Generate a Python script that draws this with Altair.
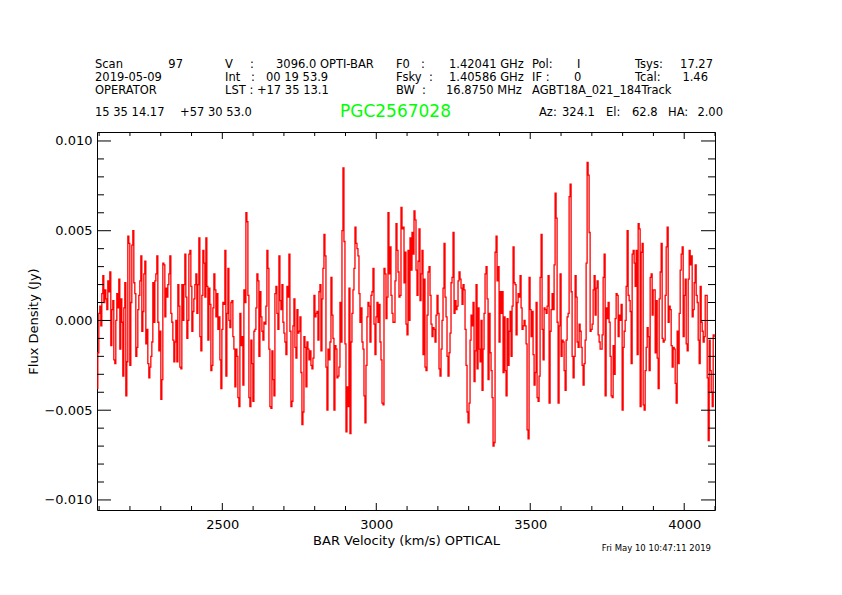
import altair as alt
import numpy as np
import pandas as pd

# ---- spectrum values (mJy), left half then right half ----
flux_a_mjy = [
    -3.8, -1.8, 0.4, 0.8, -0.3, 1.5, 2.5, 1.0, 1.7, 1.2, 0.6, 2.2, 1.6, 2.7, -1.4, 0.6, 1.1, -2.2, -2.4, 0.0,
    1.5, 0.7, 2.3, -1.6, 1.2, -0.1, -3.1, 0.7, 2.1, -4.2, -2.3, 4.7, 4.3, -2.5, 1.0, 4.2, 5.0, 2.1, 1.5, -2.0,
    -1.5, 0.6, 1.4, 2.2, 3.6, -0.6, 0.5, 2.6, 3.3, -1.3, -0.5, -2.4, -3.2, -2.6, -2.0, -1.2, 2.1, -0.1, 2.2, 2.6,
    3.6, -0.1,
    -1.7, -0.6, -4.4, -3.3, 3.2, 3.1, 0.2, 1.8, 1.3, 2.0, 2.6, 3.6, 0.4, -0.1, -1.1, -2.3, -1.2, 0.0, -2.3, 2.0,
    0.8, -2.6,
    -2.7, 2.0, 0.0, 2.0, 3.7, 1.3, -1.0, 0.0, 3.7, 3.9, 1.9, -0.6, 0.5, 1.2, 2.0, 2.6, 0.4, 2.0, 4.6, -0.9,
    -1.7,
    1.4, 3.9, 3.2, 1.3, 4.6, 1.9, -1.1, 1.8, 0.9, -2.8, -2.5, 0.7, 2.6, 1.7, 0.2, 1.5, -0.5, 0.2, -2.2, -3.8,
    -0.5,
    1.0, 0.9, 3.9, -3.1, 0.4, 2.9, 0.0, -0.4, 1.0, 1.1, -0.9, -1.6, -3.7, -1.6, -2.0, -4.3, -4.8, 0.4, -1.4, -0.9,
    -3.6, 1.7, 1.0, 6.0, 5.5, 1.4, -4.3, -4.8, -1.1, -2.4, -4.5, -0.6, -0.5, 0.7, 2.6, 2.2, -2.0, 1.6, 0.2, -0.6,
    -1.1, -0.1, -0.2, 0.8, 3.9, 2.9, -1.6, -4.8, -4.9, -1.7, -3.3, -4.2, 1.5, 1.9, 0.4, -0.5, 3.6, 1.1, 0.6, 2.0,
    -0.1, -0.7, -1.2, -1.9, 1.9, 1.3, 3.7, -0.6, -4.8, -4.5, -0.3, 1.2, -1.5, -2.1, 0.6, -0.7, -0.6, 0.2, -2.9, -5.8,
    -5.1, -0.9, -1.5, -3.7, -1.2, -1.6, -2.2, -1.7, -2.5, -2.7, -2.1, 1.4, 0.2, 0.4, 0.5, -1.1, 1.6, 2.0, -1.7, 1.2,
    2.9, 4.8, 3.6, -2.6, -5.0, -1.6, -2.2, -1.2, 2.4, 0.3, -1.0, -5.0, -1.4, -1.6, -3.2, -3.1, -2.6, 1.0, -1.2, 5.0,
    8.5, 4.4, -1.3, -6.2, -3.7, -4.8, 1.8, -6.3, -1.2, 0.4, 1.7, 2.9, 5.2, 4.3, 4.0, 3.6, 1.5, -0.1, 0.7, -1.2,
    -1.6, -4.2, -5.7, -2.5, 0.2, 1.0, 0.8, -1.2, 1.4, 1.6, 2.9, -0.2, -1.9, 0.2, 1.0, -0.1, 0.9, -1.2, -2.2, -4.6,
    -4.7, 2.9, 2.6, 0.1, 1.3, 6.0, 2.6, 4.1, 1.4, 0.4, -0.1, -0.1, 2.2, 5.4, 3.9, 2.7, 1.3, 1.4, 6.3, 5.1,
    2.1,
]
flux_b_mjy = [
    5.2, 2.1, 3.8, -0.2, -0.8, 3.9, 0.0, 4.6, 2.8, 4.9, 3.7, 6.1, 5.6, 2.8, 1.4, 3.3, 5.1, 1.1, 2.6, 3.9,
    -1.9, 2.3, -2.6, -2.8, 0.3, 2.7, 3.0, 1.4, -0.2, -0.9, -0.4, -0.5, -1.2, 0.3, 1.4, 0.4, -2.7, -3.1, -1.6, 0.0,
    1.8, 4.3, 1.3, 0.2, -2.0, -3.1, -1.8, -0.7, 2.1, 2.4, 4.9, 0.4, 1.1, 0.6, 0.8, 2.2, 2.7, 2.3, 1.8, 0.9,
    2.0, 1.7, -0.5, -2.5, -5.1, -5.7, -4.6, -1.1, 0.3, -0.3, 1.0, -3.4, -1.7, 2.0, -2.7, 0.7, -1.6, -2.3, 0.0, -3.9,
    -1.6, 0.4, 2.6, 3.0, 1.2, -3.3, 0.4, -1.8, -2.8, -4.3, -7.0, -6.8, 3.8, 4.7, 2.2, 3.0, -1.2, 1.6, 0.4, 1.6,
    -2.9, 0.2, -2.8, -4.2, 0.1, -2.5, -0.6, 0.5, -2.0, 0.8, 4.1, 2.1, 2.0, -0.8, 1.0, 1.5, 1.3, 2.5, 0.7, -0.5,
    -0.3, 0.0, -0.3, -1.3, -6.1, -6.6, 2.4, 0.6, -0.9, 0.5, -1.9, -3.6, -2.9, 1.0, -4.3, -4.5, -3.1, 2.4, 4.8, -0.5,
    -2.2, 0.7, 0.6, 0.4, 0.8, 2.5, -4.6, -0.6, 0.6, 1.5, 0.6, 3.1, 7.1, 5.7, -0.1, -4.6, -0.3, 2.6, -2.0, -1.1,
    -1.2, -2.8, -3.9, -1.1, 0.2, 0.4, 6.9, 7.6, 1.6, -2.0, -3.2, -2.0, 2.5, 1.3, -1.2, -1.5, -0.2, -0.6, -1.5, -2.5,
    -3.6, -2.4, -1.1, 3.2, 8.8, 8.1, 4.9, -0.6, -0.5, -0.2, 1.7, 2.5, 0.3, 1.8, 2.2, -0.8, -1.2, -1.6, -1.6, -0.8,
    2.4, 3.7, -4.2, 0.7, 0.1, 1.0, -0.1, -2.0, -4.2, -4.3, -1.4, -3.0, 0.1, 1.5, 1.4, -0.9, 0.3, 0.0, 0.9, -5.0,
    -1.5, -0.6, 0.0, 1.9, 5.0, 1.4, 1.1, 0.5, -2.4, 3.7, 3.9, 3.2, 1.9, 3.9, -1.9, 5.4, 5.1, -4.8, 3.8, 4.3,
    -4.7, -5.0, -2.8, -1.5, -0.4, -0.9, -2.8, 2.4, 2.6, 0.3, 1.7, 1.7, -1.8, 1.1, -2.1, -3.8, 1.2, 2.7, 4.3, -1.0,
    -1.2, -1.1, 1.4, 4.1, 5.2, -0.1, 0.8, 0.6, -1.4, -2.6, -1.5, -1.6, -3.5, -4.6, -0.6, -2.4, 0.4, 2.8, 3.7, 4.1,
    -0.9, 1.4, 2.3, -1.3, -1.7, 2.3, 3.9, 3.1, 3.6, 0.2, 0.6, 2.1, 3.1, 1.4, 1.0, -1.1, -2.4, 1.9, -0.1, -0.6,
    -1.2, -0.9, 1.4, 1.4, -3.2, -6.7, -1.1, -2.8, -4.0, -4.8, -0.8, -0.9,
]
vel_first, vel_last = 2094.0, 4099.0      # km/s, channel grid of the spectrum
x_domain = [2093.0, 4100.0]
y_domain = [-0.01056, 0.0105]

x_major = [2500, 3000, 3500, 4000]
x_minor = [v for v in range(2100, 4101, 100) if v % 500 != 0]
y_major = [-0.010, -0.005, 0.0, 0.005, 0.010]
y_minor = [round(i * 0.001, 3) for i in range(-10, 11) if i % 5 != 0]

header_left = [
    ("Scan", 95, 65), ("V", 225, 65), (":", 250, 65), ("3096.0 OPTI-BAR", 276, 65),
    ("F0", 396, 65), (":", 421, 65), ("1.42041 GHz", 449, 65), ("Pol:", 532, 65), ("I", 577, 65),
    ("Tsys:", 635, 65),
    ("2019-05-09", 95, 78), ("Int", 225, 78), (":", 251, 78), ("00 19 53.9", 266, 78),
    ("Fsky", 396, 78), (":", 429, 78), ("1.40586 GHz", 449, 78), ("IF :", 532, 78), ("0", 574, 78),
    ("Tcal:", 635, 78),
    ("OPERATOR", 95, 91), ("LST : +17 35 13.1", 225, 91), ("BW", 396, 91), (":", 422, 91),
    ("16.8750 MHz", 446, 91), ("AGBT18A_021_184Track", 532, 91),
    ("15 35 14.17", 95, 113), ("+57 30 53.0", 180, 113), ("Az:", 539, 113), ("324.1", 562, 113),
    ("El:", 606, 113), ("62.8", 632, 113), ("HA:", 668, 113),
]
header_right = [
    ("97", 183, 65), ("17.27", 713, 65), ("1.46", 708, 78), ("2.00", 723, 113),
]
source_name = "PGC2567028"
timestamp = "Fri May 10 10:47:11 2019"

# ---- layout ----
OX, OY = 97, 132          # plot origin on the page
W, H = 618, 378
FONT = "DejaVu Sans"
HFS = 11.5                # header font size

flux = np.array(flux_a_mjy[:-1] + flux_b_mjy) / 1000.0
vel = np.linspace(vel_first, vel_last, len(flux))
spec = pd.DataFrame({"vel": vel, "flux": flux})

xs = alt.Scale(domain=x_domain, nice=False, zero=False)
ys = alt.Scale(domain=y_domain, nice=False, zero=False)

ax_x = alt.Axis(
    values=x_major, format="d", ticks=False, domain=False, grid=False,
    labelFont=FONT, labelFontSize=13, labelColor="black", labelPadding=8,
    title="BAR Velocity (km/s) OPTICAL", titleFont=FONT, titleFontSize=13,
    titleFontWeight="normal", titleColor="black", titleX=W / 2, titleY=30,
    titleBaseline="middle", titleAlign="center")
ax_y = alt.Axis(
    values=y_major, format=".3f", ticks=False, domain=False, grid=False,
    labelFont=FONT, labelFontSize=13, labelColor="black", labelPadding=5,
    title="Flux Density (Jy)", titleFont=FONT, titleFontSize=13,
    titleFontWeight="normal", titleColor="black", titleX=33 - OX, titleY=H / 2,
    titleAngle=270, titleBaseline="middle", titleAlign="center")

line = alt.Chart(spec).mark_line(color="#ff0000", strokeWidth=1.3, interpolate="step", clip=True).encode(
    x=alt.X("vel:Q", scale=xs, axis=ax_x),
    y=alt.Y("flux:Q", scale=ys, axis=ax_y),
)


def tick_layer(values, side, length):
    df = pd.DataFrame({"v": values})
    base = alt.Chart(df).mark_rule(color="black", strokeWidth=1)
    if side == "bottom":
        return base.encode(x=alt.X("v:Q", scale=xs, axis=ax_x), y=alt.value(H), y2=alt.value(H - length))
    if side == "top":
        return base.encode(x=alt.X("v:Q", scale=xs, axis=ax_x), y=alt.value(0), y2=alt.value(length))
    if side == "left":
        return base.encode(y=alt.Y("v:Q", scale=ys, axis=ax_y), x=alt.value(0), x2=alt.value(length))
    return base.encode(y=alt.Y("v:Q", scale=ys, axis=ax_y), x=alt.value(W), x2=alt.value(W - length))


layers = [line]
for side in ("bottom", "top"):
    layers.append(tick_layer(x_major, side, 7))
    layers.append(tick_layer(x_minor, side, 4))
for side in ("left", "right"):
    layers.append(tick_layer(y_major, side, 14))
    layers.append(tick_layer(y_minor, side, 7))


def text_layer(t, x, y, align, size=HFS, color="black"):
    return alt.Chart(pd.DataFrame({"t": [t]})).mark_text(
        align=align, baseline="middle", font=FONT, fontSize=size, color=color
    ).encode(x=alt.value(x - OX), y=alt.value(y - OY), text="t:N")


for t, x, y in header_left:
    layers.append(text_layer(t, x, y, "left"))
for t, x, y in header_right:
    layers.append(text_layer(t, x, y, "right"))
layers.append(text_layer(source_name, 395.5, 112, "center", size=17, color="#00ff00"))
layers.append(text_layer(timestamp, 711, 548, "right", size=8.5))

chart = alt.layer(*layers).properties(
    width=W, height=H,
    padding={"left": OX - 8, "top": OY - 8, "right": 100, "bottom": 60},
    autosize=alt.AutoSizeParams(type="none"),
    background="white",
).configure_view(stroke="black", strokeWidth=1)

chart.save("out.html", embed_options={"renderer": "svg", "actions": False})
